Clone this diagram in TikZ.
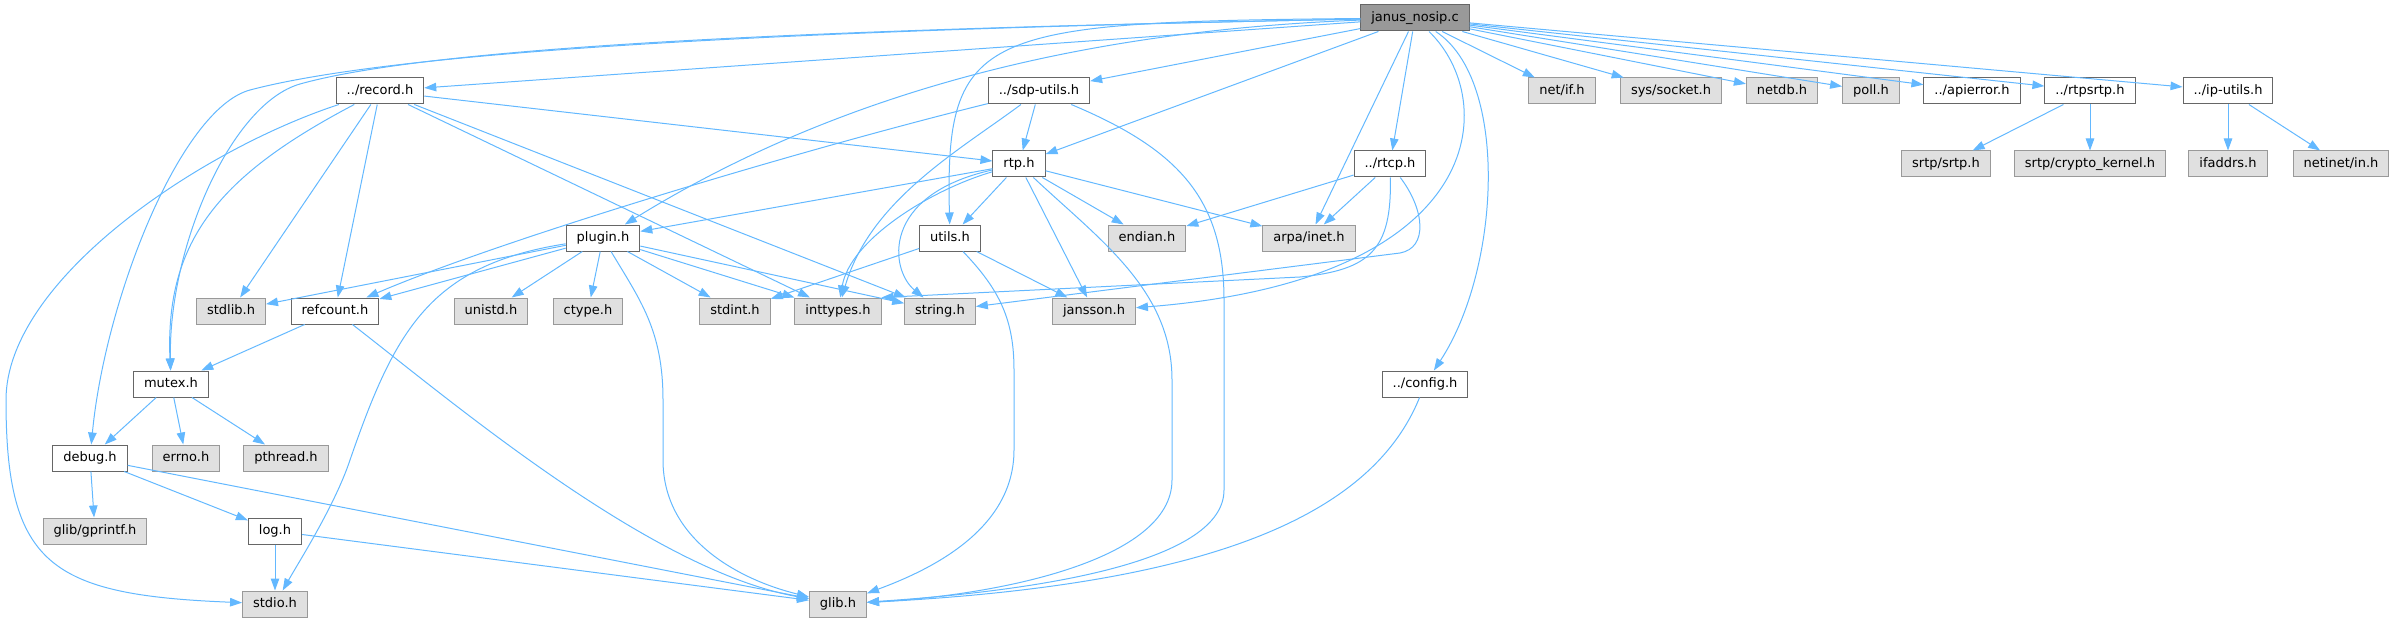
\documentclass[tikz,border=0pt]{standalone}
\usepackage{fontspec}
\setmainfont{DejaVu Sans}
\usepackage{tikz}
\usetikzlibrary{arrows.meta}
\definecolor{lienbleu}{HTML}{63B8FF}
\definecolor{bordfonce}{HTML}{666666}
\definecolor{bordclair}{HTML}{999999}
\definecolor{fondgris}{HTML}{E0E0E0}
\definecolor{fondracine}{HTML}{999999}
\tikzstyle{fichier} = [rectangle, draw=bordfonce, fill=white, line width=1pt, minimum height=26pt, inner xsep=10.5pt, inner ysep=0pt, text height=10pt, text depth=3pt, font=\fontsize{13}{15}\selectfont]
\tikzstyle{systeme} = [fichier, draw=bordclair, fill=fondgris]
\tikzstyle{racine} = [fichier, fill=fondracine]
\tikzstyle{lien} = [draw=lienbleu, line width=1pt, -{Triangle[length=12pt,width=8.5pt]}]

\begin{document}
\begin{tikzpicture}[x=1pt, y=-1pt]
                \useasboundingbox (0,0) rectangle (2394,623);

                \node [racine] (nosip) at (1415,18) {janus\_nosip.c};

                \node [fichier] (record) at (380,91) {../record.h};
                \node [fichier] (sdputils) at (1039,91) {../sdp-utils.h};
                \node [systeme] (netif) at (1562,91) {net/if.h};
                \node [systeme] (syssocket) at (1671,91) {sys/socket.h};
                \node [systeme] (netdb) at (1782,91) {netdb.h};
                \node [systeme] (poll) at (1871,91) {poll.h};
                \node [fichier] (apierror) at (1972,91) {../apierror.h};
                \node [fichier] (rtpsrtp) at (2090,91) {../rtpsrtp.h};
                \node [fichier] (iputils) at (2228,91) {../ip-utils.h};

                \node [fichier] (rtp) at (1019,164) {rtp.h};
                \node [fichier] (rtcp) at (1390,164) {../rtcp.h};
                \node [systeme] (srtp) at (1946,164) {srtp/srtp.h};
                \node [systeme] (cryptokernel) at (2090,164) {srtp/crypto\_kernel.h};
                \node [systeme] (ifaddrs) at (2228,164) {ifaddrs.h};
                \node [systeme] (netinetin) at (2341,164) {netinet/in.h};

                \node [fichier] (plugin) at (603,238) {plugin.h};
                \node [fichier] (utils) at (950,238) {utils.h};
                \node [systeme] (endian) at (1147,238) {endian.h};
                \node [systeme] (arpainet) at (1309,238) {arpa/inet.h};

                \node [systeme] (stdlib) at (231,311) {stdlib.h};
                \node [fichier] (refcount) at (335,311) {refcount.h};
                \node [systeme] (unistd) at (491,311) {unistd.h};
                \node [systeme] (ctype) at (588,311) {ctype.h};
                \node [systeme] (stdint) at (735,311) {stdint.h};
                \node [systeme] (inttypes) at (838,311) {inttypes.h};
                \node [systeme] (string) at (940,311) {string.h};
                \node [systeme] (jansson) at (1094,311) {jansson.h};

                \node [fichier] (mutex) at (171,384) {mutex.h};
                \node [fichier] (config) at (1425,384) {../config.h};

                \node [fichier] (debug) at (90,458) {debug.h};
                \node [systeme] (errno) at (186,458) {errno.h};
                \node [systeme] (pthread) at (286,458) {pthread.h};

                \node [systeme] (gprintf) at (95,531) {glib/gprintf.h};
                \node [fichier] (log) at (275,531) {log.h};

                \node [systeme] (stdio) at (275,604) {stdio.h};
                \node [systeme] (glib) at (838,604) {glib.h};

                \draw [lien] (nosip) -- (record);
                \draw [lien] (nosip) .. controls (900,28) and (420,45) .. (250,90) .. controls (180,109) and (105,300) .. (debug);
                \draw [lien] (nosip) .. controls (900,28) and (450,42) .. (300,84) .. controls (230,104) and (168,250) .. (mutex);
                \draw [lien] (nosip) .. controls (1100,30) and (850,85) .. (plugin);
                \draw [lien] (nosip) .. controls (980,22) and (945,30) .. (utils);
                \draw [lien] (nosip) -- (sdputils);
                \draw [lien] (nosip) -- (rtp);
                \draw [lien] (nosip) -- (arpainet);
                \draw [lien] (nosip) -- (rtcp);
                \draw [lien] (nosip) .. controls (1500,100) and (1490,280) .. (jansson);
                \draw [lien] (nosip) .. controls (1510,80) and (1500,270) .. (config);
                \draw [lien] (nosip) -- (netif);
                \draw [lien] (nosip) -- (syssocket);
                \draw [lien] (nosip) -- (netdb);
                \draw [lien] (nosip) -- (poll);
                \draw [lien] (nosip) -- (apierror);
                \draw [lien] (nosip) -- (rtpsrtp);
                \draw [lien] (nosip) -- (iputils);

                \draw [lien] (record) -- (stdlib);
                \draw [lien] (record) -- (refcount);
                \draw [lien] (record) -- (inttypes);
                \draw [lien] (record) -- (string);
                \draw [lien] (record) -- (rtp);
                \draw [lien] (record) .. controls (220,175) and (165,240) .. (mutex);
                \draw [lien] (record) .. controls (200,150) and (6,280) .. (6,400) .. controls (6,565) and (50,595) .. (stdio);

                \draw [lien] (sdputils) -- (rtp);
                \draw [lien] (sdputils) .. controls (800,150) and (500,240) .. (refcount);
                \draw [lien] (sdputils) .. controls (960,150) and (870,200) .. (inttypes);
                \draw [lien] (sdputils) .. controls (1180,150) and (1224,200) .. (1224,300) -- (1224,490) .. controls (1224,560) and (1050,590) .. (glib);

                \draw [lien] (rtp) -- (plugin);
                \draw [lien] (rtp) -- (utils);
                \draw [lien] (rtp) -- (endian);
                \draw [lien] (rtp) -- (arpainet);
                \draw [lien] (rtp) -- (jansson);
                \draw [lien] (rtp) .. controls (930,190) and (850,240) .. (inttypes);
                \draw [lien] (rtp) .. controls (880,195) and (890,270) .. (string);
                \draw [lien] (rtp) .. controls (1100,240) and (1172,290) .. (1172,380) -- (1172,480) .. controls (1172,560) and (1000,595) .. (glib);

                \draw [lien] (rtcp) -- (endian);
                \draw [lien] (rtcp) -- (arpainet);
                \draw [lien] (rtcp) .. controls (1392,250) and (1370,270) .. (1300,277) -- (inttypes.north east);
                \draw [lien] (rtcp) .. controls (1425,210) and (1428,248) .. (1400,253) -- (string);

                \draw [lien] (utils) -- (stdint);
                \draw [lien] (utils) -- (jansson);
                \draw [lien] (utils) .. controls (1000,290) and (1014,320) .. (1014,370) -- (1014,450) .. controls (1014,530) and (930,570) .. (glib);

                \draw [lien] (plugin) -- (stdlib);
                \draw [lien] (plugin) -- (refcount);
                \draw [lien] (plugin) -- (unistd);
                \draw [lien] (plugin) -- (ctype);
                \draw [lien] (plugin) -- (stdint);
                \draw [lien] (plugin) -- (inttypes);
                \draw [lien] (plugin) -- (string);
                \draw [lien] (plugin) .. controls (640,300) and (663,330) .. (663,400) -- (663,460) .. controls (663,540) and (740,580) .. (glib);
                \draw [lien] (plugin) .. controls (430,265) and (395,330) .. (350,460) .. controls (335,505) and (300,560) .. (stdio);

                \draw [lien] (refcount) -- (mutex);
                \draw [lien] (refcount) .. controls (450,400) and (650,570) .. (glib);

                \draw [lien] (mutex) -- (debug);
                \draw [lien] (mutex) -- (errno);
                \draw [lien] (mutex) -- (pthread);

                \draw [lien] (debug) -- (gprintf);
                \draw [lien] (debug) -- (log);
                \draw [lien] (debug) -- (glib);

                \draw [lien] (log) -- (stdio);
                \draw [lien] (log) -- (glib);

                \draw [lien] (config) .. controls (1370,520) and (1200,585) .. (glib);

                \draw [lien] (rtpsrtp) -- (srtp);
                \draw [lien] (rtpsrtp) -- (cryptokernel);
                \draw [lien] (iputils) -- (ifaddrs);
                \draw [lien] (iputils) -- (netinetin);
            \end{tikzpicture}
\end{document}
